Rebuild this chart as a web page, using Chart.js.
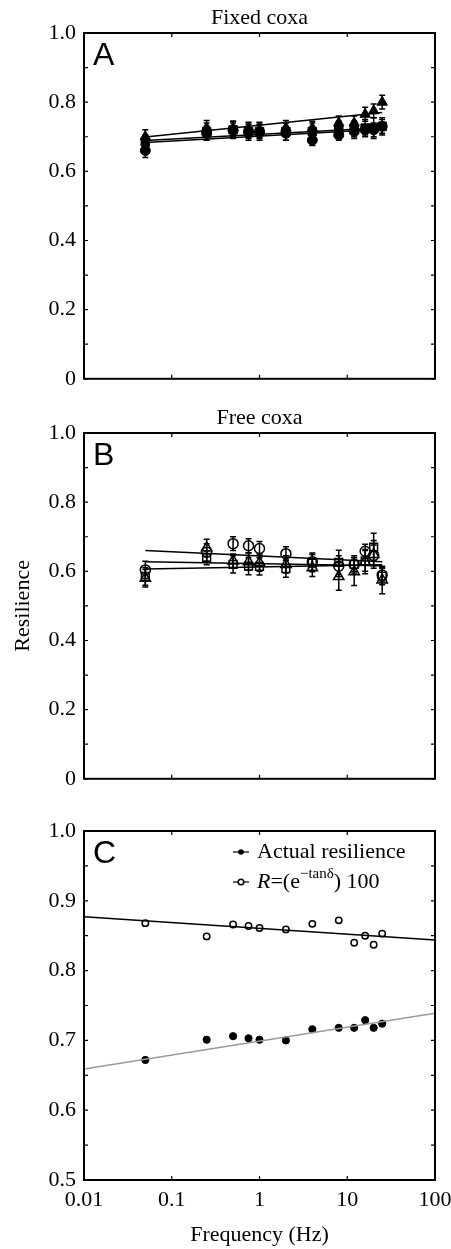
<!DOCTYPE html>
<html>
<head>
<meta charset="utf-8">
<script src="https://cdn.jsdelivr.net/npm/chart.js@4.4.0/dist/chart.umd.min.js"></script>
<style>
body { margin: 0; background: #fff; }
#wrap { position: relative; width: 451px; height: 1249px; }
canvas { position: absolute; left: 0; }
</style>
</head>
<body>
<div id="wrap">
  <canvas id="chartA" width="451" height="400" style="top:0px"></canvas>
  <canvas id="chartB" width="451" height="400" style="top:400px"></canvas>
  <canvas id="chartC" width="451" height="449" style="top:800px"></canvas>
</div>
<script>
// frequencies tested (Hz)
var freqHz = [0.05, 0.25, 0.5, 0.75, 1, 2, 4, 8, 12, 16, 20, 25];
var xTicks = [0.01, 0.1, 1, 10, 100];

// A - fixed coxa (filled symbols)
var fixedTri = [0.700, 0.725, 0.725, 0.720, 0.720, 0.725, 0.725, 0.740, 0.740, 0.765, 0.775, 0.800];
var fixedTriErr = [0.020, 0.022, 0.020, 0.022, 0.022, 0.022, 0.020, 0.020, 0.020, 0.020, 0.020, 0.020];
var fixedSq = [0.685, 0.715, 0.720, 0.715, 0.715, 0.715, 0.715, 0.720, 0.720, 0.725, 0.725, 0.730];
var fixedSqErr = [0.020, 0.025, 0.025, 0.025, 0.025, 0.025, 0.025, 0.025, 0.025, 0.025, 0.030, 0.025];
var fixedCirc = [0.660, 0.710, 0.720, 0.715, 0.715, 0.710, 0.690, 0.705, 0.715, 0.720, 0.720, 0.730];
var fixedCircErr = [0.020, 0.020, 0.020, 0.020, 0.020, 0.020, 0.015, 0.015, 0.015, 0.015, 0.020, 0.020];
var fitXA = [0.05, 25];
var fixedTriFit = [0.699, 0.770];
var fixedSqFit = [0.689, 0.726];
var fixedCircFit = [0.683, 0.722];

// B - free coxa (open symbols)
var freeCirc = [0.604, 0.655, 0.680, 0.674, 0.666, 0.651, 0.628, 0.615, 0.620, 0.658, 0.646, 0.589];
var freeCircErr = [0.025, 0.025, 0.020, 0.020, 0.020, 0.020, 0.025, 0.030, 0.025, 0.020, 0.030, 0.020];
var freeSq = [0.585, 0.639, 0.620, 0.615, 0.614, 0.608, 0.624, 0.626, 0.620, 0.630, 0.670, 0.586];
var freeSqErr = [0.025, 0.020, 0.025, 0.025, 0.025, 0.025, 0.025, 0.035, 0.020, 0.030, 0.040, 0.025];
var freeTri = [0.580, 0.668, 0.630, 0.628, 0.625, 0.620, 0.610, 0.585, 0.599, 0.628, 0.649, 0.575];
var freeTriErr = [0.025, 0.025, 0.020, 0.025, 0.025, 0.025, 0.025, 0.040, 0.040, 0.035, 0.040, 0.040];
var fitXB = [0.05, 25];
var freeCircFit = [0.660, 0.628];
var freeSqFit = [0.628, 0.616];
var freeTriFit = [0.607, 0.619];

// C - actual vs predicted resilience
var actualRes = [0.672, 0.701, 0.706, 0.703, 0.701, 0.700, 0.716, 0.718, 0.718, 0.729, 0.718, 0.724];
var predictedRes = [0.868, 0.849, 0.866, 0.864, 0.861, 0.859, 0.867, 0.872, 0.840, 0.850, 0.837, 0.853];
var fitXC = [0.01, 100];
var actualFit = [0.659, 0.739];
var predictedFit = [0.877, 0.844];

var serif = "'Liberation Serif', 'Times New Roman', serif";
Chart.defaults.font.family = serif;
Chart.defaults.font.size = 22;
Chart.defaults.color = '#000';

function pts(xs, ys) {
    return xs.map(function (x, i) { return { x: x, y: ys[i] }; });
}

function markers(ys, errs, style, filled, r, lw) {
    return {
        data: pts(freqHz, ys),
        errors: errs,
        showLine: false,
        pointStyle: style,
        pointRadius: r,
        pointBorderWidth: lw,
        pointBorderColor: '#000',
        pointBackgroundColor: filled ? '#000' : 'rgba(0,0,0,0)'
    };
}

function fitLine(xs, ys, color, lw) {
    return {
        data: pts(xs, ys),
        showLine: true,
        borderColor: color,
        borderWidth: lw,
        pointRadius: 0
    };
}

// error bars, drawn from the y scale
var errorBars = {
    id: 'errorBars',
    beforeDatasetsDraw: function (chart) {
        var ctx = chart.ctx, xs = chart.scales.x, ys = chart.scales.y;
        ctx.save();
        ctx.strokeStyle = '#000';
        ctx.lineWidth = 1.5;
        chart.data.datasets.forEach(function (ds) {
            if (!ds.errors) return;
            ds.data.forEach(function (p, i) {
                var px = xs.getPixelForValue(p.x);
                var top = ys.getPixelForValue(p.y + ds.errors[i]);
                var bot = ys.getPixelForValue(p.y - ds.errors[i]);
                ctx.beginPath();
                ctx.moveTo(px, top); ctx.lineTo(px, bot);
                ctx.moveTo(px - 3, top); ctx.lineTo(px + 3, top);
                ctx.moveTo(px - 3, bot); ctx.lineTo(px + 3, bot);
                ctx.stroke();
            });
        });
        ctx.restore();
    }
};

// box, inward tick marks, panel letter and title
var frame = {
    id: 'frame',
    afterDraw: function (chart, args, opts) {
        var ctx = chart.ctx, a = chart.chartArea;
        var xs = chart.scales.x, ys = chart.scales.y;
        ctx.save();
        ctx.strokeStyle = '#000';
        ctx.lineWidth = 1.2;
        ctx.beginPath();
        xs.ticks.forEach(function (t) {
            var px = xs.getPixelForValue(t.value);
            ctx.moveTo(px, a.bottom); ctx.lineTo(px, a.bottom - 4);
            ctx.moveTo(px, a.top); ctx.lineTo(px, a.top + 4);
        });
        ys.ticks.forEach(function (t) {
            var py = ys.getPixelForValue(t.value);
            ctx.moveTo(a.left, py); ctx.lineTo(a.left + 4, py);
            ctx.moveTo(a.right, py); ctx.lineTo(a.right - 4, py);
        });
        ctx.stroke();
        ctx.lineWidth = 2;
        ctx.strokeRect(a.left, a.top, a.right - a.left, a.bottom - a.top);
        ctx.fillStyle = '#000';
        ctx.textBaseline = 'middle';
        ctx.textAlign = 'left';
        ctx.font = "32px 'Liberation Sans', Arial, sans-serif";
        ctx.fillText(opts.letter, a.left + 9, a.top + 23);
        if (opts.title) {
            ctx.textAlign = 'center';
            ctx.font = '22px ' + serif;
            ctx.fillText(opts.title, (a.left + a.right) / 2, a.top - 15);
        }
        ctx.restore();
    }
};

// legend of panel C
var legendC = {
    id: 'legendC',
    afterDraw: function (chart) {
        if (chart.canvas.id !== 'chartC') return;
        var ctx = chart.ctx, a = chart.chartArea;
        var x0 = a.left + 149, y1 = a.top + 21, y2 = a.top + 51;
        ctx.save();
        ctx.strokeStyle = '#000';
        ctx.fillStyle = '#000';
        ctx.lineWidth = 1.2;
        [y1, y2].forEach(function (yy, k) {
            ctx.beginPath();
            ctx.moveTo(x0, yy); ctx.lineTo(x0 + 16, yy);
            ctx.stroke();
            ctx.beginPath();
            ctx.arc(x0 + 8, yy, 2.8, 0, Math.PI * 2);
            if (k === 0) { ctx.fill(); } else {
                ctx.fillStyle = '#fff'; ctx.fill(); ctx.fillStyle = '#000';
                ctx.lineWidth = 1.5; ctx.stroke();
            }
        });
        ctx.textBaseline = 'middle';
        ctx.textAlign = 'left';
        var tx = x0 + 24;
        ctx.font = '22px ' + serif;
        ctx.fillText('Actual resilience', tx, y1);
        ctx.font = 'italic 22px ' + serif;
        ctx.fillText('R', tx, y2);
        tx += ctx.measureText('R').width;
        ctx.font = '22px ' + serif;
        ctx.fillText('=(e', tx, y2);
        tx += ctx.measureText('=(e').width;
        ctx.font = '15px ' + serif;
        ctx.fillText('\u2212tan\u03b4', tx, y2 - 8);
        tx += ctx.measureText('\u2212tan\u03b4').width;
        ctx.font = '22px ' + serif;
        ctx.fillText(') 100', tx, y2);
        ctx.restore();
    }
};

function makePanel(id, letter, datasets, yMin, yMax, yStep, labelStep, opt) {
    var ctx = document.getElementById(id).getContext('2d');
    return new Chart(ctx, {
        type: 'scatter',
        data: { datasets: datasets },
        plugins: [errorBars, frame, legendC],
        options: {
            responsive: false,
            animation: false,
            layout: { padding: { top: opt.padTop, bottom: opt.padBottom, left: 0, right: 16 } },
            plugins: {
                legend: { display: false },
                tooltip: { enabled: false },
                frame: { letter: letter, title: opt.title }
            },
            scales: {
                x: {
                    type: 'logarithmic',
                    min: 0.01,
                    max: 100,
                    grid: { display: false, drawTicks: false },
                    border: { display: false },
                    afterBuildTicks: function (scale) {
                        scale.ticks = xTicks.map(function (v) { return { value: v }; });
                    },
                    afterFit: function (scale) {
                        scale.height = opt.xHeight;
                        scale.paddingLeft = 0;
                        scale.paddingRight = 0;
                    },
                    ticks: {
                        display: opt.showX,
                        autoSkip: false,
                        maxRotation: 0,
                        padding: 7,
                        callback: function (v) { return String(v); }
                    },
                    title: {
                        display: opt.showX,
                        text: 'Frequency (Hz)',
                        padding: { top: 0, bottom: 1 }
                    }
                },
                y: {
                    min: yMin,
                    max: yMax,
                    grid: { display: false, drawTicks: false },
                    border: { display: false },
                    afterFit: function (scale) { scale.width = 84; },
                    ticks: {
                        stepSize: yStep,
                        autoSkip: false,
                        padding: 8,
                        callback: function (v) {
                            var n = Math.round(v / yStep);
                            if (n % Math.round(labelStep / yStep) !== 0) return '';
                            return v === 0 ? '0' : v.toFixed(1);
                        }
                    },
                    title: {
                        display: !!opt.yTitle,
                        text: opt.yTitle,
                        padding: { top: 10, bottom: 0 }
                    }
                }
            }
        }
    });
}

makePanel('chartA', 'A', [
    fitLine(fitXA, fixedTriFit, '#000', 1.5),
    fitLine(fitXA, fixedSqFit, '#000', 1.5),
    fitLine(fitXA, fixedCircFit, '#000', 1.5),
    markers(fixedCirc, fixedCircErr, 'circle', true, 5, 1),
    markers(fixedSq, fixedSqErr, 'rect', true, 6, 1),
    markers(fixedTri, fixedTriErr, 'triangle', true, 6, 1)
], 0, 1, 0.1, 0.2, { title: 'Fixed coxa', padTop: 33, padBottom: 17, xHeight: 0, showX: false });

makePanel('chartB', 'B', [
    fitLine(fitXB, freeCircFit, '#000', 1.5),
    fitLine(fitXB, freeSqFit, '#000', 1.5),
    fitLine(fitXB, freeTriFit, '#000', 1.5),
    markers(freeCirc, freeCircErr, 'circle', false, 5, 1.5),
    markers(freeSq, freeSqErr, 'rect', false, 5.5, 1.5),
    markers(freeTri, freeTriErr, 'triangle', false, 6, 1.5)
], 0, 1, 0.1, 0.2, { title: 'Free coxa', yTitle: 'Resilience', padTop: 33, padBottom: 17, xHeight: 0, showX: false });

makePanel('chartC', 'C', [
    fitLine(fitXC, predictedFit, '#000', 1.5),
    fitLine(fitXC, actualFit, '#999', 1.5),
    markers(predictedRes, null, 'circle', false, 3.2, 1.5),
    markers(actualRes, null, 'circle', true, 3.6, 1)
], 0.5, 1, 0.05, 0.1, { padTop: 31, padBottom: 0, xHeight: 69, showX: true });
</script>
</body>
</html>
